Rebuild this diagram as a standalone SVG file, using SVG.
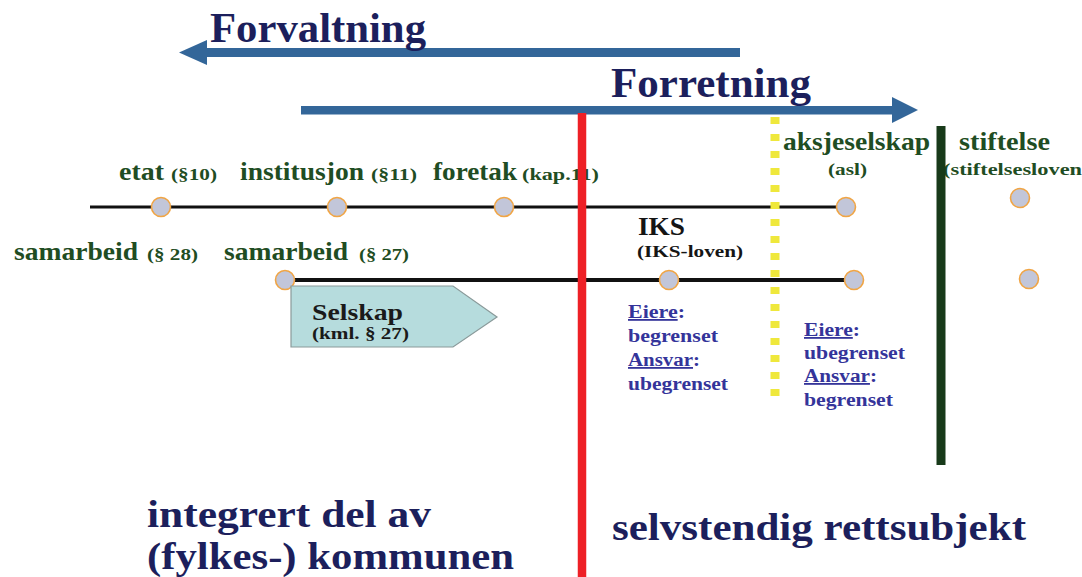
<svg xmlns="http://www.w3.org/2000/svg" width="1082" height="577" viewBox="0 0 1082 577">
  <style>
    text { font-family: "Liberation Serif", "Times New Roman", serif; font-weight: bold; }
    .title { fill: #1c1f5c; font-size: 42px; }
    .lbl { fill: #1f4d23; font-size: 25px; }
    .sub { fill: #1f4d23; font-size: 17px; }
    .iks { fill: #151515; }
    .own { fill: #34349a; font-size: 18px; }
    .big { fill: #1c1f5c; }
    .dot { fill: #c2c6d9; stroke: #f0a545; stroke-width: 1.6; }
    .arrow { fill: #336699; }
    .track { stroke: #111; fill: none; }
  </style>

  <!-- direction arrows -->
  <g id="forvaltning">
    <rect class="arrow" x="200" y="48" width="540" height="9"/>
    <polygon class="arrow" points="207,40 179,52.5 207,65"/>
    <text class="title" x="210" y="42" textLength="216" lengthAdjust="spacingAndGlyphs">Forvaltning</text>
  </g>
  <g id="forretning">
    <rect class="arrow" x="301" y="106" width="592" height="8.5"/>
    <polygon class="arrow" points="892,97 918,110 892,123"/>
    <text class="title" x="611" y="97" font-size="40" textLength="200" lengthAdjust="spacingAndGlyphs">Forretning</text>
  </g>

  <!-- connectors: the two tracks -->
  <g id="connectors">
    <line class="track" x1="90" y1="207" x2="846" y2="207" stroke-width="3"/>
    <line class="track" x1="284" y1="280" x2="853" y2="280" stroke-width="4"/>
  </g>

  <!-- organisation forms -->
  <g id="etat">
    <text class="lbl" x="119" y="180" textLength="45" lengthAdjust="spacingAndGlyphs">etat</text>
    <text class="sub" x="171" y="180" textLength="46" lengthAdjust="spacingAndGlyphs">(§10)</text>
    <circle class="dot" cx="161" cy="207" r="9.5"/>
  </g>
  <g id="institusjon">
    <text class="lbl" x="240" y="180" textLength="124" lengthAdjust="spacingAndGlyphs">institusjon</text>
    <text class="sub" x="371" y="180" textLength="46" lengthAdjust="spacingAndGlyphs">(§11)</text>
    <circle class="dot" cx="337" cy="207" r="9.5"/>
  </g>
  <g id="foretak">
    <text class="lbl" x="433" y="180" textLength="84" lengthAdjust="spacingAndGlyphs">foretak</text>
    <text class="sub" x="522" y="180" textLength="77" lengthAdjust="spacingAndGlyphs">(kap.11)</text>
    <circle class="dot" cx="504" cy="207" r="9.5"/>
  </g>
  <g id="aksjeselskap">
    <text class="lbl" x="783" y="150" textLength="147" lengthAdjust="spacingAndGlyphs">aksjeselskap</text>
    <text class="sub" x="828" y="175" textLength="39" lengthAdjust="spacingAndGlyphs">(asl)</text>
    <circle class="dot" cx="846" cy="207" r="9.5"/>
  </g>
  <g id="stiftelse">
    <text class="lbl" x="959" y="150" textLength="91" lengthAdjust="spacingAndGlyphs">stiftelse</text>
    <text class="sub" x="943" y="175" textLength="139" lengthAdjust="spacingAndGlyphs">(stiftelsesloven</text>
    <circle class="dot" cx="1020" cy="198" r="9.5"/>
  </g>
  <g id="samarbeid-28">
    <text class="lbl" x="14" y="260" textLength="124" lengthAdjust="spacingAndGlyphs">samarbeid</text>
    <text class="sub" x="147" y="260" textLength="51" lengthAdjust="spacingAndGlyphs">(§ 28)</text>
  </g>
  <g id="samarbeid-27">
    <text class="lbl" x="224" y="260" textLength="124" lengthAdjust="spacingAndGlyphs">samarbeid</text>
    <text class="sub" x="359" y="260" textLength="50" lengthAdjust="spacingAndGlyphs">(§ 27)</text>
    <circle class="dot" cx="285" cy="280" r="9.5"/>
  </g>
  <g id="selskap">
    <polygon points="291,286 453,286 497,317 453,347 291,347" fill="#b6dcdd" stroke="#8a9a9a" stroke-width="1.2"/>
    <text x="312" y="320" font-size="24" fill="#1a1a1a" textLength="91" lengthAdjust="spacingAndGlyphs">Selskap</text>
    <text x="312" y="339" font-size="16" fill="#1a1a1a" textLength="97" lengthAdjust="spacingAndGlyphs">(kml. § 27)</text>
  </g>
  <g id="iks">
    <text class="iks" x="638" y="235" font-size="26" textLength="47" lengthAdjust="spacingAndGlyphs">IKS</text>
    <text class="iks" x="637" y="257" font-size="17" textLength="106" lengthAdjust="spacingAndGlyphs">(IKS-loven)</text>
    <circle class="dot" cx="669" cy="280" r="9.5"/>
    <text class="own" x="628" y="318" textLength="57" lengthAdjust="spacingAndGlyphs"><tspan text-decoration="underline">Eiere</tspan>:</text>
    <text class="own" x="628" y="342" textLength="90" lengthAdjust="spacingAndGlyphs">begrenset</text>
    <text class="own" x="628" y="366" textLength="72" lengthAdjust="spacingAndGlyphs"><tspan text-decoration="underline">Ansvar</tspan>:</text>
    <text class="own" x="628" y="390" textLength="100" lengthAdjust="spacingAndGlyphs">ubegrenset</text>
  </g>
  <g id="as-ansvar">
    <circle class="dot" cx="854" cy="280" r="9.5"/>
    <text class="own" x="804" y="336" textLength="56" lengthAdjust="spacingAndGlyphs"><tspan text-decoration="underline">Eiere</tspan>:</text>
    <text class="own" x="804" y="359" textLength="101" lengthAdjust="spacingAndGlyphs">ubegrenset</text>
    <text class="own" x="804" y="382" textLength="73" lengthAdjust="spacingAndGlyphs"><tspan text-decoration="underline">Ansvar</tspan>:</text>
    <text class="own" x="804" y="406" textLength="89" lengthAdjust="spacingAndGlyphs">begrenset</text>
  </g>
  <g id="stiftelse-2">
    <circle class="dot" cx="1029" cy="279" r="9.5"/>
  </g>

  <!-- dividing lines -->
  <g id="dividers">
    <line x1="582" y1="113" x2="582" y2="577" stroke="#ee2026" stroke-width="8.5"/>
    <line x1="775" y1="117" x2="775" y2="401" stroke="#efe83c" stroke-width="9" stroke-dasharray="7 10"/>
    <line x1="941" y1="126" x2="941" y2="465" stroke="#183a1a" stroke-width="9"/>
  </g>

  <!-- area captions -->
  <g id="integrert">
    <text class="big" x="147" y="527" font-size="37" textLength="284" lengthAdjust="spacingAndGlyphs">integrert del av</text>
    <text class="big" x="147" y="569" font-size="37" textLength="367" lengthAdjust="spacingAndGlyphs">(fylkes-) kommunen</text>
  </g>
  <g id="selvstendig">
    <text class="big" x="612" y="540" font-size="38" textLength="414" lengthAdjust="spacingAndGlyphs">selvstendig rettsubjekt</text>
  </g>
</svg>
